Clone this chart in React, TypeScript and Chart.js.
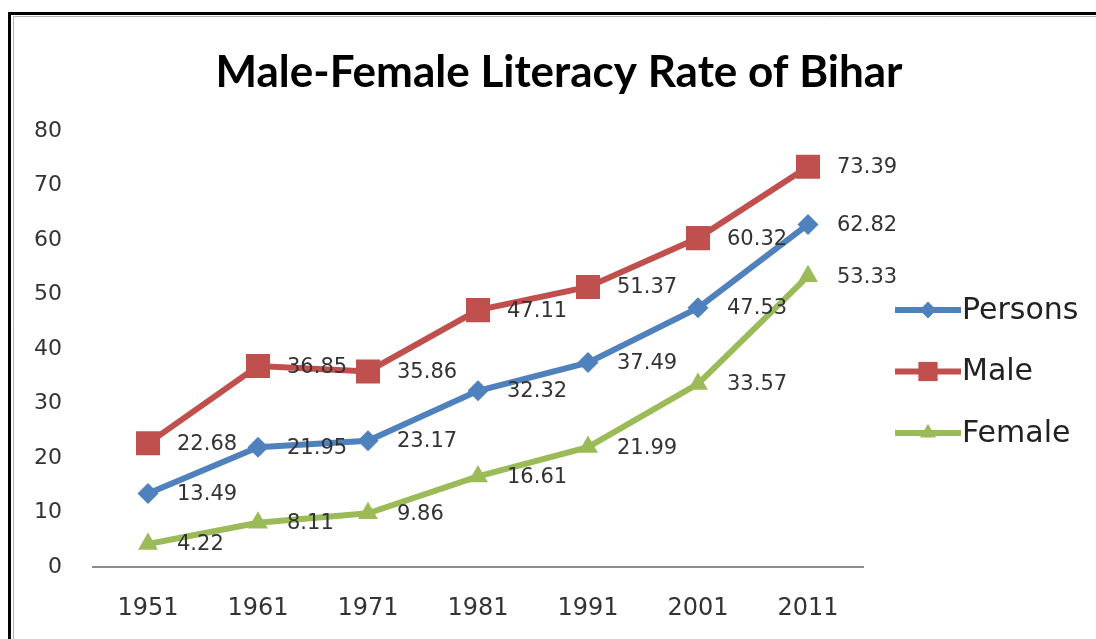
import React, { useEffect, useRef } from "react";
import { Chart, registerables } from "chart.js";

Chart.register(...registerables);

const years = ["1951", "1961", "1971", "1981", "1991", "2001", "2011"];
const persons = [13.49, 21.95, 23.17, 32.32, 37.49, 47.53, 62.82];
const male = [22.68, 36.85, 35.86, 47.11, 51.37, 60.32, 73.39];
const female = [4.22, 8.11, 9.86, 16.61, 21.99, 33.57, 53.33];
const seriesNames = ["Persons", "Male", "Female"];
const titleText = "Male-Female Literacy Rate of Bihar";
const yMin = 0;
const yMax = 80;
const yStep = 10;

const COLORS = ["#4F81BD", "#C0504D", "#9BBB59"];
const MARKERS = ["rectRot", "rect", "triangle"];
const RADII = [10.5, 17, 11.5];

function drawMarker(ctx: CanvasRenderingContext2D, style: string, x: number, y: number, r: number) {
  ctx.beginPath();
  if (style === "rectRot") {
    ctx.moveTo(x, y - r);
    ctx.lineTo(x + r, y);
    ctx.lineTo(x, y + r);
    ctx.lineTo(x - r, y);
  } else if (style === "rect") {
    const s = Math.SQRT1_2 * r;
    ctx.rect(x - s, y - s, 2 * s, 2 * s);
  } else {
    const a = (2 * Math.PI) / 3;
    ctx.moveTo(x, y - r);
    ctx.lineTo(x + Math.sin(a) * r, y - Math.cos(a) * r);
    ctx.lineTo(x + Math.sin(2 * a) * r, y - Math.cos(2 * a) * r);
  }
  ctx.closePath();
  ctx.fill();
}

const framePlugin = {
  id: "frame",
  beforeDraw(chart: any) {
    const ctx = chart.ctx;
    ctx.save();
    ctx.fillStyle = "#ffffff";
    ctx.fillRect(0, 0, chart.width, chart.height);
    ctx.strokeStyle = "#000000";
    ctx.lineWidth = 3;
    ctx.beginPath();
    ctx.moveTo(9.5, chart.height);
    ctx.lineTo(9.5, 13.5);
    ctx.lineTo(chart.width, 13.5);
    ctx.stroke();
    ctx.strokeStyle = "#b0b0b0";
    ctx.lineWidth = 1;
    ctx.beginPath();
    ctx.moveTo(13.5, chart.height);
    ctx.lineTo(13.5, 16.5);
    ctx.lineTo(chart.width, 16.5);
    ctx.stroke();
    ctx.restore();
  },
};

const dataLabelPlugin = {
  id: "dataLabels",
  afterDatasetsDraw(chart: any) {
    const ctx = chart.ctx;
    ctx.save();
    ctx.font = "21px 'DejaVu Sans'";
    ctx.fillStyle = "#333333";
    ctx.textAlign = "left";
    ctx.textBaseline = "middle";
    chart.data.datasets.forEach((ds: any, i: number) => {
      const meta = chart.getDatasetMeta(i);
      meta.data.forEach((pt: any, j: number) => {
        ctx.fillText(Number(ds.data[j]).toFixed(2), pt.x + 29, pt.y + 1);
      });
    });
    ctx.restore();
  },
};

const legendPlugin = {
  id: "customLegend",
  afterDraw(chart: any) {
    const ctx = chart.ctx;
    const area = chart.chartArea;
    const x0 = area.right + 32;
    const lineLen = 66;
    const top = 310;
    const gap = 61.5;
    ctx.save();
    chart.data.datasets.forEach((ds: any, i: number) => {
      const y = top + i * gap;
      ctx.strokeStyle = ds.borderColor;
      ctx.fillStyle = ds.borderColor;
      ctx.lineWidth = 6;
      ctx.beginPath();
      ctx.moveTo(x0, y);
      ctx.lineTo(x0 + lineLen, y);
      ctx.stroke();
      drawMarker(ctx, MARKERS[i], x0 + lineLen / 2, y, RADII[i] * 0.8);
      ctx.fillStyle = "#222222";
      ctx.font = "30px 'DejaVu Sans'";
      ctx.textAlign = "left";
      ctx.textBaseline = "middle";
      ctx.fillText(ds.label, x0 + lineLen + 1, y + 1);
    });
    ctx.restore();
  },
};

export default function App() {
  const ref = useRef<HTMLCanvasElement | null>(null);

  useEffect(() => {
    if (!ref.current) return;
    const series = [persons, male, female];
    const chart = new Chart(ref.current, {
      type: "line",
      data: {
        labels: years,
        datasets: series.map((d, i) => ({
          label: seriesNames[i],
          data: d,
          borderColor: COLORS[i],
          backgroundColor: COLORS[i],
          borderWidth: 6,
          pointStyle: MARKERS[i] as any,
          pointRadius: RADII[i],
          pointBorderWidth: 0,
          pointBackgroundColor: COLORS[i],
          tension: 0,
          order: 3 - i,
        })),
      },
      options: {
        animation: false,
        responsive: true,
        maintainAspectRatio: false,
        layout: { padding: { left: 22, right: 0, top: 0, bottom: 0 } },
        plugins: {
          legend: { display: false },
          tooltip: { enabled: false },
          title: {
            display: true,
            text: titleText,
            color: "#000000",
            font: { family: "Lato", size: 44, weight: "bold" },
            padding: { top: 46, bottom: 32 },
          },
        },
        scales: {
          x: {
            offset: true,
            grid: { display: false, drawTicks: false },
            border: { display: true, color: "#8c8c8c", width: 2 },
            ticks: {
              color: "#333333",
              font: { family: "DejaVu Sans", size: 24 },
              padding: 27,
              maxRotation: 0,
            },
            afterFit: (s: any) => {
              s.height = 72;
            },
          },
          y: {
            min: yMin,
            max: yMax,
            grid: { display: false, drawTicks: false },
            border: { display: false },
            ticks: {
              stepSize: yStep,
              color: "#333333",
              font: { family: "DejaVu Sans", size: 22 },
              padding: 31,
            },
            afterFit: (s: any) => {
              s.width = 71;
            },
          },
          y2: {
            position: "right",
            grid: { display: false, drawTicks: false },
            border: { display: false },
            ticks: { display: false },
            afterFit: (s: any) => {
              s.width = 233;
            },
          },
        },
      },
      plugins: [framePlugin, dataLabelPlugin, legendPlugin],
    });
    return () => chart.destroy();
  }, []);

  return (
    <div style={{ position: "fixed", left: 0, top: 0, width: 1096, height: 639 }}>
      <canvas ref={ref} />
    </div>
  );
}
